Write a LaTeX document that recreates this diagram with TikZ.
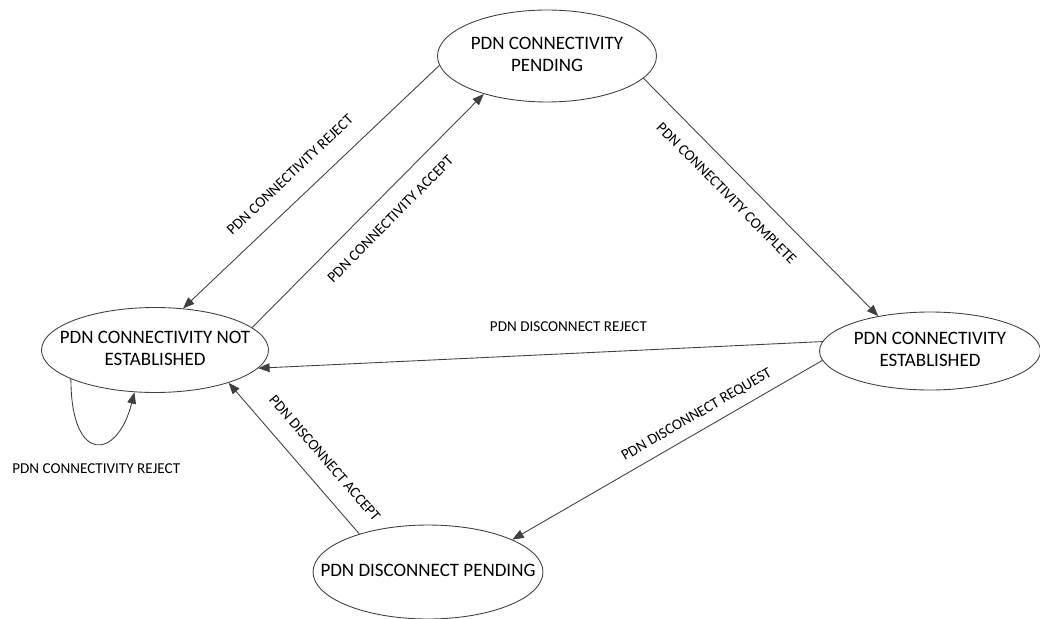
\documentclass[tikz,border=0pt]{standalone}
\usepackage{fontspec}
\setmainfont{Carlito}
\usetikzlibrary{arrows.meta,shapes.geometric,calc}

\definecolor{linegray}{HTML}{404040}
\newcommand{\statetext}[1]{\makebox[0pt][c]{\begin{tabular}{@{}c@{}}#1\end{tabular}}}

\begin{document}
\begin{tikzpicture}[x=0.02cm, y=-0.02cm, >={Triangle[length=6.5pt,width=5pt]}, line width=0.5pt]

    \tikzstyle{pdnstate} = [ellipse, draw=linegray, inner sep=0pt, font=\fontsize{10.8}{13}\selectfont]
    \tikzstyle{lbl} = [font=\fontsize{8.6}{10}\selectfont, inner sep=3.33pt, text=black]

    \useasboundingbox (0,0) rectangle (1040,618);

    \node (pend)  [pdnstate, minimum width=4.38cm, minimum height=1.84cm] at (547,56)  {\statetext{PDN CONNECTIVITY\\PENDING}};

    \node (nest)  [pdnstate, minimum width=4.54cm, minimum height=1.70cm] at (155,350) {\statetext{PDN CONNECTIVITY NOT\\ESTABLISHED}};

    \node (est)   [pdnstate, minimum width=4.42cm, minimum height=1.56cm] at (930,351) {\statetext{PDN CONNECTIVITY\\ESTABLISHED}};

    \node (dpend) [pdnstate, minimum width=4.60cm, minimum height=1.88cm] at (428,572) {\statetext{PDN DISCONNECT PENDING}};


    \path[->, linegray]  (pend.185)  edge  node[lbl, sloped, above=7pt, pos=0.52]  {PDN CONNECTIVITY REJECT}    (nest.56);
    \path[->, linegray]  (nest.13)   edge  node[lbl, sloped, below=6pt, pos=0.53]  {PDN CONNECTIVITY ACCEPT}    (pend.211);
    \path[->, linegray]  (pend.347)  edge  node[lbl, sloped, below=6pt, pos=0.42]  {PDN CONNECTIVITY COMPLETE}  (est.146.6);
    \path[->, linegray]  (est.175)   edge  node[lbl, above=9pt, pos=0.45]          {PDN DISCONNECT REJECT}      (nest.-10.5);
    \path[->, linegray]  (est.185)   edge  node[lbl, sloped, above=2pt, pos=0.38]  {PDN DISCONNECT REQUEST}     (dpend.21);
    \path[->, linegray]  (dpend.151) edge  node[lbl, sloped, above=7pt, pos=0.40]  {PDN DISCONNECT ACCEPT}      (nest.-24.4);

    % self loop
    \draw[->, linegray]  (nest.199) .. controls +(0,86) and +(-17,68) .. node[lbl, below=8pt, pos=0.5] {PDN CONNECTIVITY REJECT} (nest.244);
\end{tikzpicture}
\end{document}
